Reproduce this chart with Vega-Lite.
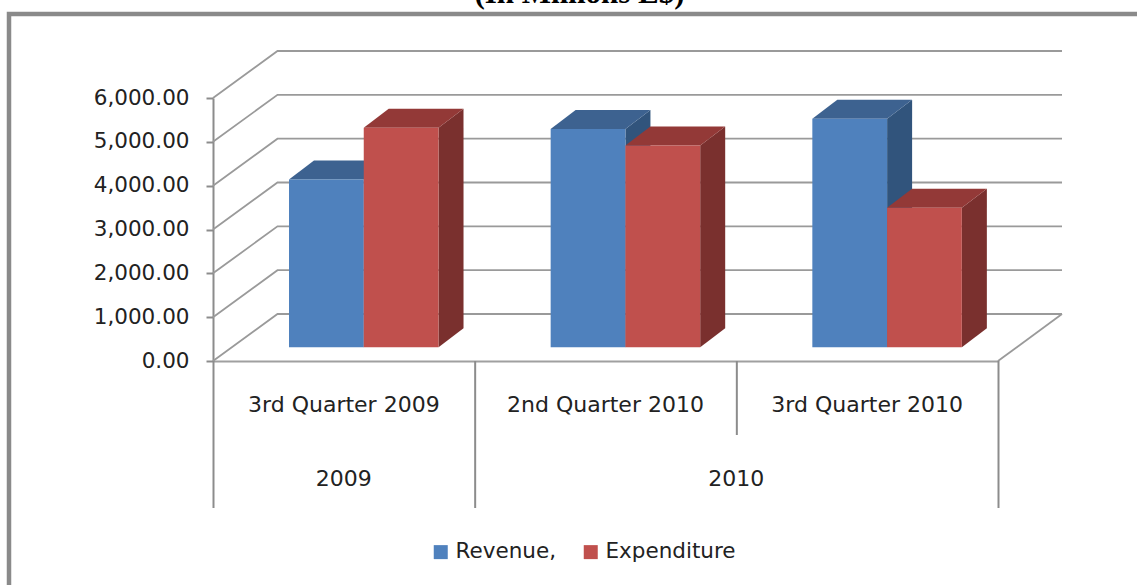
{
"$schema":"https://vega.github.io/schema/vega-lite/v6.json",
"width":785,"height":263,
"autosize":{"type":"none"},
"padding":{"left":213,"top":98,"right":139,"bottom":224},
"background":"white",
"config":{"view":{"stroke":null},"text":{"font":"DejaVu Sans"}},
"datasets":{
"bars":[
{"quarter":"3rd Quarter 2009","series":"Revenue,","value":3826,"bar":"Q3-2009-Revenue"},
{"quarter":"3rd Quarter 2009","series":"Expenditure","value":5006,"bar":"Q3-2009-Expenditure"},
{"quarter":"2nd Quarter 2010","series":"Revenue,","value":4978,"bar":"Q2-2010-Revenue"},
{"quarter":"2nd Quarter 2010","series":"Expenditure","value":4600,"bar":"Q2-2010-Expenditure"},
{"quarter":"3rd Quarter 2010","series":"Revenue,","value":5211,"bar":"Q3-2010-Revenue"},
{"quarter":"3rd Quarter 2010","series":"Expenditure","value":3180,"bar":"Q3-2010-Expenditure"}
],
"ticks":[{"tick":0},{"tick":1000},{"tick":2000},{"tick":3000},{"tick":4000},{"tick":5000},{"tick":6000}]
},
"resolve":{"scale":{"y":"independent"}},
"layer":[
{"data":{"name":"ticks"},
 "mark":{"type":"point","filled":false,"size":4,"opacity":1,"stroke":"#9a9a9a","strokeWidth":1.8,"clip":false,"shape":"M0,0L64.5,-47L849,-47"},
 "encoding":{
  "x":{"datum":"3rd Quarter 2009","type":"nominal","bandPosition":0,
   "scale":{"domain":["3rd Quarter 2009","2nd Quarter 2010","3rd Quarter 2010"],"paddingInner":0,"paddingOuter":0},
   "axis":{"title":null,"labelAngle":0,"labelFontSize":22,"labelFont":"DejaVu Sans","labelColor":"#222","labelLimit":400,"ticks":false,"domainColor":"#a0a0a0","domainWidth":2,"labelPadding":33,"labelBaseline":"top"}},
  "y":{"field":"tick","type":"quantitative","scale":{"domain":[0,6000]},
   "axis":{"title":null,"values":[0,1000,2000,3000,4000,5000,6000],"format":",.2f","grid":false,"labelFontSize":21.5,"labelFont":"DejaVu Sans","labelColor":"#222","tickSize":7,"tickColor":"#8c8c8c","tickWidth":2,"domainColor":"#8c8c8c","domainWidth":2,"labelPadding":17}}
 }},
{"data":{"name":"ticks"},"transform":[{"filter":"datum.tick===0"}],
 "mark":{"type":"point","filled":false,"size":4,"opacity":1,"stroke":"#9a9a9a","strokeWidth":1.8,"clip":false,"shape":"M785,0L849,-47"},
 "encoding":{
  "x":{"datum":"3rd Quarter 2009","type":"nominal","bandPosition":0},
  "y":{"field":"tick","type":"quantitative","scale":{"domain":[0,6000]},"axis":null}
 }},
{"data":{"name":"bars"},
 "mark":{"type":"point","filled":true,"size":4,"opacity":1,"clip":false},
 "encoding":{
  "x":{"field":"quarter","type":"nominal"},
  "xOffset":{"field":"series","type":"nominal","scale":{"domain":["Revenue,","Expenditure"],"range":[76,225.5],"paddingInner":0,"paddingOuter":0}},
  "y":{"field":"value","type":"quantitative","scale":{"domain":[-315,5685]},"axis":null},
  "color":{"condition":{"test":"datum.series==='Revenue,'","value":"#31547c"},"value":"#7a302e"},
  "shape":{"field":"bar","type":"nominal","legend":null,"scale":{
   "domain":["Q3-2009-Revenue","Q3-2009-Expenditure","Q2-2010-Revenue","Q2-2010-Expenditure","Q3-2010-Revenue","Q3-2010-Expenditure"],
   "range":["M37.4,0L62.4,-19L62.4,148.7L37.4,167.7Z","M37.4,0L62.4,-19L62.4,200.4L37.4,219.4Z","M37.4,0L62.4,-19L62.4,199.2L37.4,218.2Z","M37.4,0L62.4,-19L62.4,182.6L37.4,201.6Z","M37.4,0L62.4,-19L62.4,209.4L37.4,228.4Z","M37.4,0L62.4,-19L62.4,120.4L37.4,139.4Z"]}}
 }},
{"data":{"name":"bars"},
 "mark":{"type":"point","filled":true,"size":4,"opacity":1,"clip":false,"shape":"M-37.4,0L-12.4,-19L62.4,-19L37.4,0Z"},
 "encoding":{
  "x":{"field":"quarter","type":"nominal"},
  "xOffset":{"field":"series","type":"nominal"},
  "y":{"field":"value","type":"quantitative","scale":{"domain":[-315,5685]},"axis":null},
  "color":{"condition":{"test":"datum.series==='Revenue,'","value":"#3d6290"},"value":"#933937"}
 }},
{"data":{"name":"bars"},
 "mark":{"type":"bar","clip":false},
 "encoding":{
  "x":{"field":"quarter","type":"nominal"},
  "xOffset":{"field":"series","type":"nominal"},
  "y":{"field":"value","type":"quantitative","scale":{"domain":[-315,5685]},"axis":null},
  "y2":{"datum":0},
  "color":{"field":"series","type":"nominal","scale":{"domain":["Revenue,","Expenditure"],"range":["#4f81bd","#c0504d"]},
   "legend":{"title":null,"orient":"none","legendX":217,"legendY":443,"direction":"horizontal","symbolType":"square","symbolSize":196,"symbolStrokeWidth":0,"labelFontSize":21.5,"labelFont":"DejaVu Sans","labelColor":"#222","columnPadding":24,"labelOffset":4}}
 }},
{"data":{"values":[{"edge":"3rd Quarter 2009"},{"edge":"2nd Quarter 2010"}]},
 "mark":{"type":"point","filled":false,"size":4,"opacity":1,"stroke":"#8c8c8c","strokeWidth":2,"clip":false,"shape":"M0.5,0L0.5,147"},
 "encoding":{
  "x":{"field":"edge","type":"nominal","bandPosition":0},
  "y":{"datum":0,"scale":{"domain":[0,6000]},"axis":null}
 }},
{"data":{"values":[{"edge":"3rd Quarter 2010"}]},
 "mark":{"type":"point","filled":false,"size":4,"opacity":1,"stroke":"#8c8c8c","strokeWidth":2,"clip":false,"shape":"M0.5,0L0.5,74"},
 "encoding":{
  "x":{"field":"edge","type":"nominal","bandPosition":0},
  "y":{"datum":0,"scale":{"domain":[0,6000]},"axis":null}
 }},
{"data":{"values":[{"edge":"3rd Quarter 2010"}]},
 "mark":{"type":"point","filled":false,"size":4,"opacity":1,"stroke":"#8c8c8c","strokeWidth":2,"clip":false,"shape":"M0.5,0L0.5,147"},
 "encoding":{
  "x":{"field":"edge","type":"nominal","bandPosition":1},
  "y":{"datum":0,"scale":{"domain":[0,6000]},"axis":null}
 }},
{"data":{"values":[{"year":"2009","quarter":"3rd Quarter 2009"}]},
 "mark":{"type":"text","fontSize":22,"font":"DejaVu Sans","fill":"#222","baseline":"middle","clip":false},
 "encoding":{
  "x":{"field":"quarter","type":"nominal","bandPosition":0.5},
  "y":{"datum":-2690,"scale":{"domain":[0,6000]},"axis":null},
  "text":{"field":"year"}
 }},
{"data":{"values":[{"year":"2010","quarter":"2nd Quarter 2010"}]},
 "mark":{"type":"text","fontSize":22,"font":"DejaVu Sans","fill":"#222","baseline":"middle","clip":false},
 "encoding":{
  "x":{"field":"quarter","type":"nominal","bandPosition":1},
  "y":{"datum":-2690,"scale":{"domain":[0,6000]},"axis":null},
  "text":{"field":"year"}
 }},
{"data":{"values":[{"caption":"(In Millions L$)","quarter":"2nd Quarter 2010"}]},
 "mark":{"type":"text","fontSize":31,"font":"Liberation Serif","fontWeight":"bold","fill":"black","baseline":"alphabetic","clip":false,"dx":-26},
 "encoding":{
  "x":{"field":"quarter","type":"nominal"},
  "y":{"datum":8157,"scale":{"domain":[0,6000]},"axis":null},
  "text":{"field":"caption"}
 }},
{"data":{"values":[{"frame":"border"}]},
 "mark":{"type":"point","filled":false,"size":4,"opacity":1,"stroke":"#8a8a8a","strokeWidth":4.5,"clip":false,"shape":"M-204,500L-204,-84L930,-84"},
 "encoding":{
  "x":{"datum":"3rd Quarter 2009","type":"nominal","bandPosition":0},
  "y":{"datum":6000,"scale":{"domain":[0,6000]},"axis":null}
 }}
]
}
